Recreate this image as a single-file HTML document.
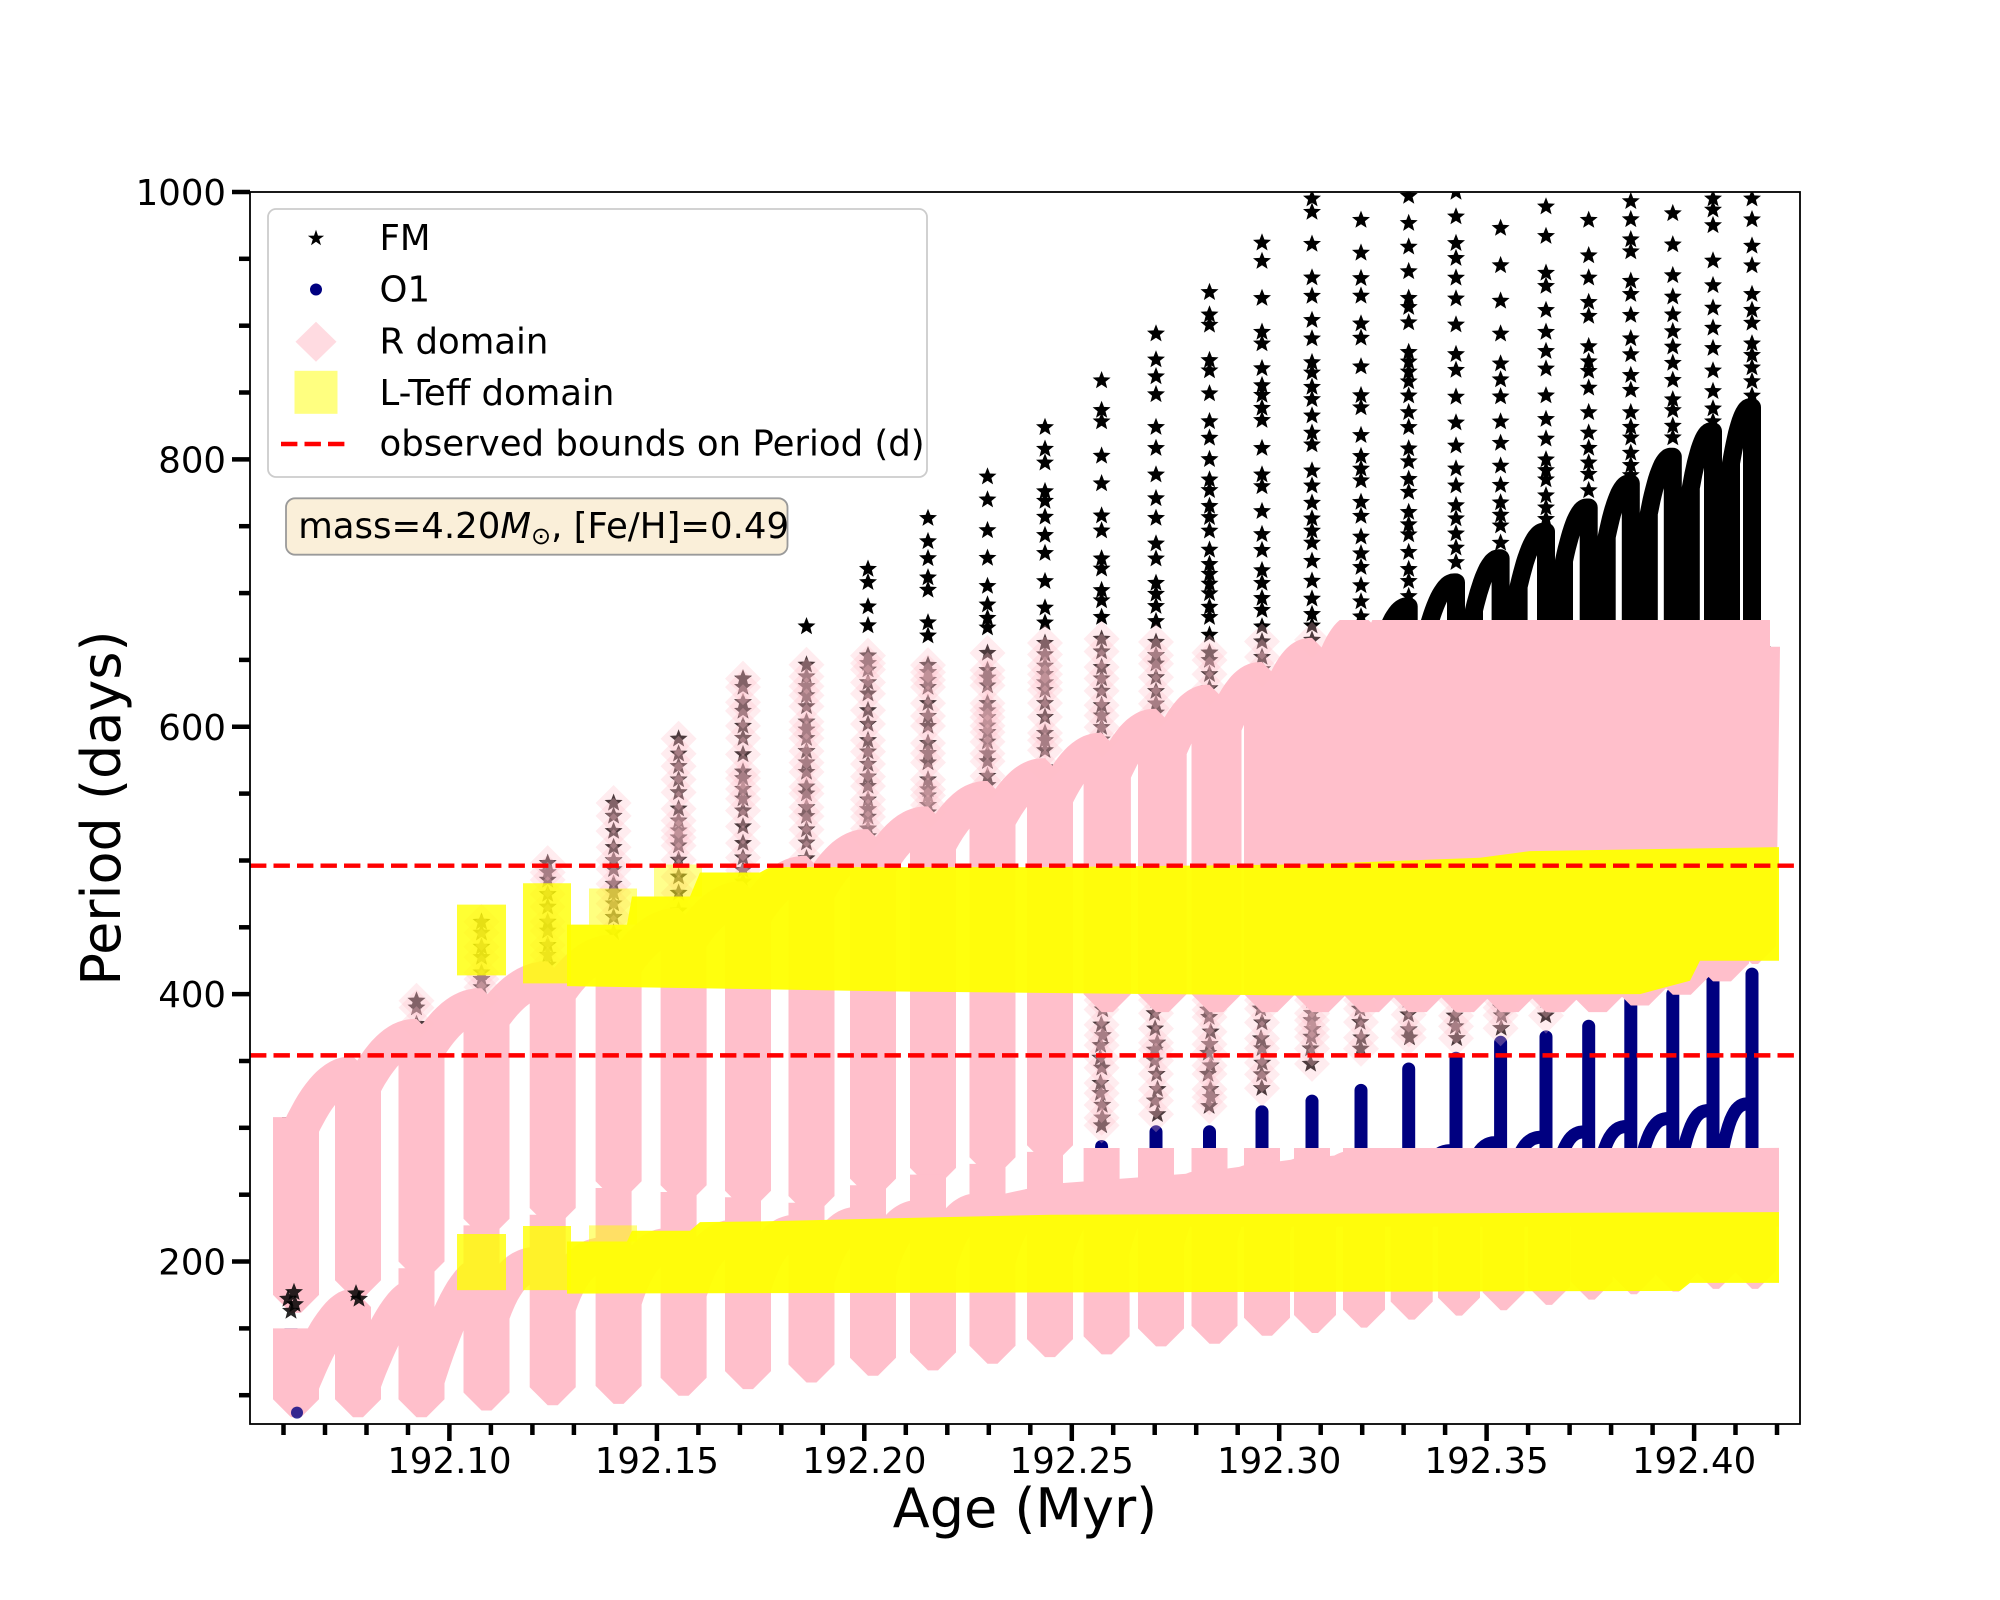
<!DOCTYPE html>
<html><head><meta charset="utf-8">
<style>
html,body{margin:0;padding:0;background:#fff;}
svg{display:block;}
text{font-family:"DejaVu Sans","Liberation Sans",sans-serif;fill:#000;}
</style></head>
<body>
<svg id="s" xmlns="http://www.w3.org/2000/svg" width="2000" height="1600" viewBox="0 0 2000 1600">
<defs>
<clipPath id="ax"><rect x="250" y="192" width="1550" height="1232"/></clipPath>
<clipPath id="cfm"><rect x="250" y="620" width="1550" height="804"/></clipPath>
<clipPath id="co1"><rect x="250" y="1148" width="1550" height="276"/></clipPath>
</defs>
<rect width="2000" height="1600" fill="#fff"/>
<g clip-path="url(#ax)">
  <g id="gblack"></g>
  <g id="gnavy"></g>
  <g id="gpink"></g>
  <g id="gyellow"></g>
  <g id="gtop"></g>
  <line x1="250" y1="865.7" x2="1800" y2="865.7" stroke="#ff0000" stroke-width="4.44" stroke-dasharray="16.4 7.1"/>
  <line x1="250" y1="1055.4" x2="1800" y2="1055.4" stroke="#ff0000" stroke-width="4.44" stroke-dasharray="16.4 7.1"/>
</g>
<rect x="250" y="192" width="1550" height="1232" fill="none" stroke="#000" stroke-width="1.8"/>
<g id="ticks" stroke="#000" stroke-width="4.5"></g>

<g font-size="35.5" text-anchor="end">
<text x="226" y="205">1000</text>
<text x="226" y="472.4">800</text>
<text x="226" y="739.8">600</text>
<text x="226" y="1007.1">400</text>
<text x="226" y="1274.5">200</text>
</g>
<g font-size="35.5" text-anchor="middle">
<text x="449.45" y="1473">192.10</text>
<text x="656.88" y="1473">192.15</text>
<text x="864.32" y="1473">192.20</text>
<text x="1071.75" y="1473">192.25</text>
<text x="1279.19" y="1473">192.30</text>
<text x="1486.62" y="1473">192.35</text>
<text x="1694.06" y="1473">192.40</text>
</g>
<text x="1025" y="1527" font-size="54" text-anchor="middle">Age (Myr)</text>
<text transform="translate(120,808) rotate(-90)" font-size="54" text-anchor="middle">Period (days)</text>

<rect x="268" y="209" width="659" height="268" rx="8" ry="8" fill="#ffffff" fill-opacity="0.85" stroke="#cccccc" stroke-width="1.8"/>
<polygon id="lstar" fill="#000" points="316,229.8 318,235.6 324.1,235.7 319.2,239.3 321,245.2 316,241.7 311,245.2 312.8,239.3 307.9,235.7 314,235.6"/>
<circle cx="316" cy="289.5" r="6" fill="#000080"/>
<polygon points="316,321.7 336.5,341.7 316,361.7 295.5,341.7" fill="#ffdbe1"/>
<rect x="294.5" y="370.8" width="43" height="43" fill="#ffff80"/>
<line x1="281" y1="444" x2="351" y2="444" stroke="#ff0000" stroke-width="4.44" stroke-dasharray="16.4 7.1"/>
<g font-size="35.5">
<text x="379.5" y="250">FM</text>
<text x="379.5" y="301.7">O1</text>
<text x="379.5" y="353.3">R domain</text>
<text x="379.5" y="405">L-Teff domain</text>
<text x="379.5" y="455.7">observed bounds on Period (d)</text>
</g>
<rect x="286" y="498.3" width="501.5" height="56.4" rx="9" ry="9" fill="#faefd9" stroke="#9a9a9a" stroke-width="1.8"/>
<text x="298.2" y="538" font-size="35.5">mass=4.20<tspan font-style="italic">M</tspan><tspan font-size="24" dy="6">⊙</tspan><tspan dy="-6">, [Fe/H]=0.49</tspan></text>
</svg>
<script>
(function(){
const Y=v=>192+(1000-v)*1.3369;
const f1=n=>(+n).toFixed(1);
const clamp=(a)=>Math.min(1,Math.max(0,a));
let seed=987654321;
function rnd(){seed=(Math.imul(seed,1664525)+1013904223)>>>0;return seed/4294967296;}
function star(cx,cy,r){let p=[];for(let k=0;k<10;k++){const a=-Math.PI/2+k*Math.PI/5;const rr=(k%2)?r*0.43:r;p.push(f1(cx+rr*Math.cos(a))+','+f1(cy+rr*Math.sin(a)));}return p.join(' ');}
function dia(cx,cy,h){return `${f1(cx)},${f1(cy-h)} ${f1(cx+h)},${f1(cy)} ${f1(cx)},${f1(cy+h)} ${f1(cx-h)},${f1(cy)}`;}
const SR=9.5;
const xs=[291,353,416.5,481.5,547.7,613.6,678.6,743,806.5,868,928,987.5,1045,1101.6,1156,1209.5,1262,1312,1361,1408.7,1456,1500.6,1546,1588.7,1630.8,1672.8,1713,1752];
const P=[340,368,391,411,431,451,471,490,510,527,546,563,582,600,618,635,653,672,690,708,726,746,764,782,802,821,839];
const B=[175,186,200,232,240,260,257,253,249,262,270,278,287,295,303,313,326,338,354,362,362,373,382,397,405,413,423,436];
const S=[0,0,395,454,498,543,591,636,675,718,756,787,824,859,894,925,962,995,979,997,1000,973,989,979,993,984,995,995];
const Po=[166,174,190,198,205,212,218,222,228,233,238,242,246,250,255,260,265,270,279,283,289,293,297,301,307,313,318];
const Bo=[97,97,97,102,106,107,113,118,123,128,132,137,142,144,150,152,158,160,164,170,173,177,181,185,189,191,193,193];
const To=[0,0,195,227,235,255,252,248,244,257,265,273,282,286,297,297,312,320,328,344,352,364,368,376,396,400,411,415];

let d='',e='',blackStars='',pinkDia='';
let prevTop=308;
d=`M${xs[0]},${f1(Y(308))}`;
for(let i=0;i<28;i++){
  const x=xs[i];
  const xr=x+10+8*clamp((i-12)/6);
  if(i>=2){
    const yTop=Y(S[i]),yBot=Y(prevTop);
    let y=yTop;
    while(y<yBot-6){
      blackStars+=`<polygon points="${star(x,y,SR)}"/>`;
      const v=1000-(y-192)/1.3369;
      if(v<668){
        pinkDia+=`<polygon points="${dia(x,y,18)}"/>`;
        y+=6+rnd()*12;
      } else {
        const frac=(yBot-y)/(yBot-yTop);
        y+=9+rnd()*(6+24*frac);
      }
    }
  }
  const dense=(i>=13)?Math.max(B[i],400):B[i];
  d+=` L${x},${f1(Y(dense))}`;
  if(dense>B[i]){
    let y=Y(dense)+6;
    while(y<Y(B[i])){
      blackStars+=`<polygon points="${star(x+rnd()*3-1.5,y,SR)}"/>`;
      pinkDia+=`<polygon points="${dia(x,y,18)}"/>`;
      y+=7+rnd()*9;
    }
  }
  if(i==27){d+=` L${x+6},${f1(Y(dense))} L${x+10},${f1(Y(660))}`;break;}
  const R=prevTop-0.06*(prevTop-B[i]);
  d+=` L${f1(xr)},${f1(Y(dense))} L${f1(xr)},${f1(Y(R))}`;
  const x1=xr,x2=xs[i+1]-2;
  for(let k=1;k<=16;k++){const t=k/16;const v=R+(P[i]-R)*(1-Math.pow(1-t,2));d+=` L${f1(x1+(x2-x1)*t)},${f1(Y(v))}`;}
  d+=` L${xs[i+1]},${f1(Y(P[i]))}`;
  prevTop=P[i];
}
e=`M${xs[0]},${f1(Y(150))}`;
for(let i=0;i<28;i++){
  const x=xs[i];
  const xro=x+(i>=17?6:10);
  if(To[i]>0) e+=` L${x},${f1(Y(To[i]))}`;
  e+=` L${x},${f1(Y(Bo[i]))}`;
  if(i==27){e+=` L${x+6},${f1(Y(Bo[i]))} L${x+6},${f1(Y(250))}`;break;}
  const early=(i<=2);
  const Ro=Bo[i]+(early?0.15:0.6)*(Po[i]-Bo[i]);
  const pw=early?1.6:3;
  e+=` L${xro},${f1(Y(Bo[i]))} L${xro},${f1(Y(Ro))}`;
  const x1=xro,x2=xs[i+1]-2;
  for(let k=1;k<=16;k++){const t=k/16;const v=Ro+(Po[i]-Ro)*(1-Math.pow(1-t,pw));e+=` L${f1(x1+(x2-x1)*t)},${f1(Y(v))}`;}
  e+=` L${xs[i+1]},${f1(Y(Po[i]))}`;
}
const lowBand=[[1000,226],[1000,250],[1050,258],[1193,266],[1290,276],[1385,283],[1779,285],[1779,226]];
document.getElementById('gblack').innerHTML=
 `<path d="${d}" fill="none" stroke="#000" stroke-width="18" stroke-linejoin="round" stroke-linecap="butt"/>`+
 `<g fill="#000">${blackStars}</g>`;
document.getElementById('gnavy').innerHTML=
 `<path d="${e}" fill="none" stroke="#000080" stroke-width="13" stroke-linejoin="round" stroke-linecap="butt"/>`;
document.getElementById('gpink').innerHTML=
 `<g clip-path="url(#cfm)"><path d="${d}" fill="none" stroke="#ffbfcb" stroke-width="36" stroke-linejoin="bevel" stroke-linecap="butt"/></g>`+
 `<g clip-path="url(#co1)"><path d="${e}" fill="none" stroke="#ffbfcb" stroke-width="36" stroke-linejoin="bevel" stroke-linecap="butt"/></g>`+
 `<polygon fill="#ffbfcb" points="${lowBand.map(a=>f1(a[0])+','+f1(Y(a[1]))).join(' ')}"/>`+
 `<g fill="#ffc0cb" fill-opacity="0.3">${pinkDia}</g>`;

const polys=[
 {p:[[457,414],[506,414],[506,467],[457,467]],o:0.8},
 {p:[[523,408],[571,408],[571,483],[523,483]],o:0.8},
 {p:[[589,452],[637,452],[637,479],[589,479]],o:0.5},
 {p:[[654,473],[702,473],[702,497],[654,497]],o:0.45},
 {p:[[567,452],[627,452],[632,473],[690,473],[700,491],[760,491],[770,495],[1050,495],[1300,497],[1480,502],[1530,507],[1779,510],[1779,425],[1700,425],[1690,410],[1640,400],[1300,399],[900,402],[567,406]],o:0.95},
 {p:[[457,178.6],[506,178.6],[506,220.6],[457,220.6]],o:0.8},
 {p:[[523,178.6],[571,178.6],[571,226.6],[523,226.6]],o:0.8},
 {p:[[589,215],[637,215],[637,227],[589,227]],o:0.5},
 {p:[[567,215],[627,215],[632,223],[690,223],[700,229.5],[760,230],[1050,235],[1779,237],[1779,184],[1690,184],[1680,178],[567,176]],o:0.95}
];
let ys='';
for(const q of polys){ys+=`<polygon fill="#ffff00" fill-opacity="${q.o}" points="${q.p.map(a=>f1(a[0])+','+f1(Y(a[1]))).join(' ')}"/>`;}
document.getElementById('gyellow').innerHTML=ys;

let top='';
[[291,163],[295,168],[288,172],[294,177],[356,176],[359,172]].forEach(a=>{top+=`<polygon fill="#000" fill-opacity="0.85" points="${star(a[0],Y(a[1]),SR)}"/>`;});
top+=`<circle cx="297" cy="${f1(Y(87))}" r="6" fill="#000080" fill-opacity="0.8"/>`;
document.getElementById('gtop').innerHTML=top;

let t='';
const yMaj=[1000,800,600,400,200];
for(let v=100;v<=1000;v+=50){const y=f1(Y(v));const maj=yMaj.includes(v);t+=`<line x1="${maj?232:239}" y1="${y}" x2="250" y2="${y}"/>`;}
for(let j=0;j<=36;j++){const x=f1(283.5+j*41.487);const maj=(j%5==4);t+=`<line x1="${x}" y1="1424" x2="${x}" y2="${maj?1441:1435}"/>`;}
document.getElementById('ticks').innerHTML=t;
})();
</script>
</body></html>
